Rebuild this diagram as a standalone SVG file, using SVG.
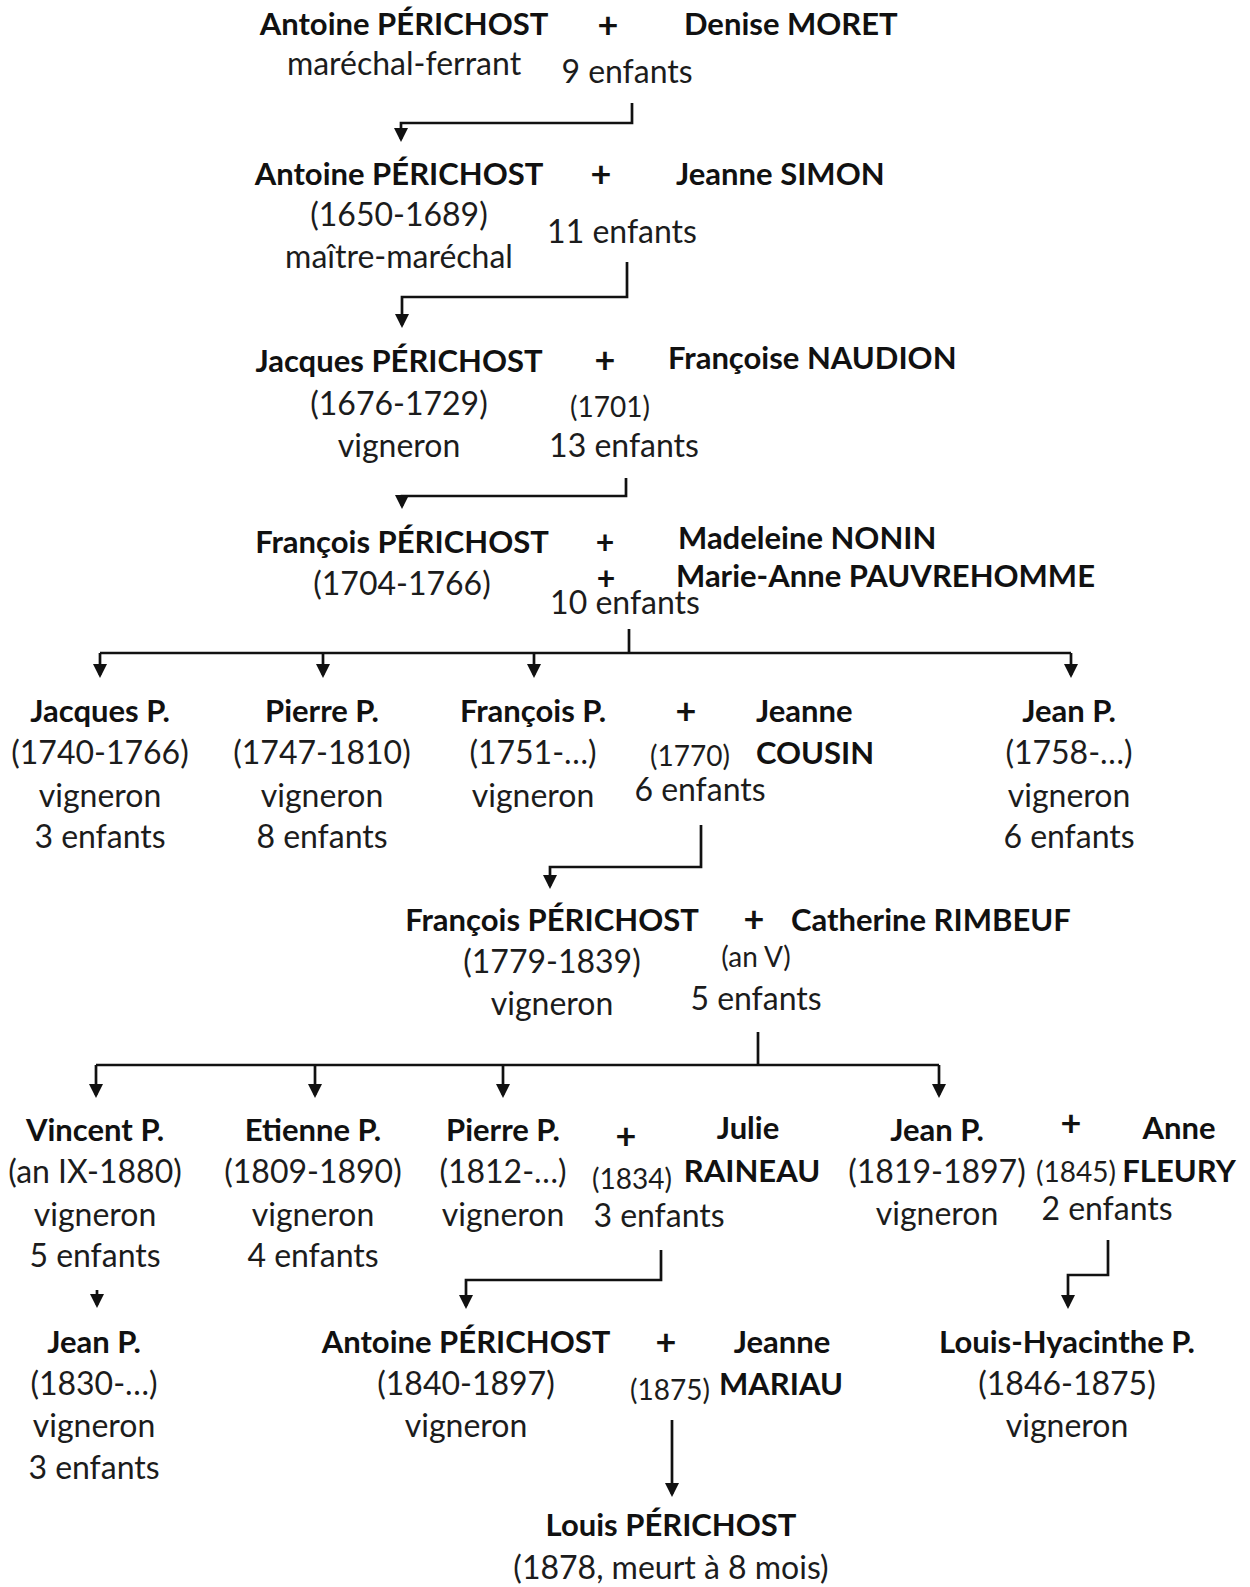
<svg xmlns="http://www.w3.org/2000/svg" width="1250" height="1587" viewBox="0 0 1250 1587">
  <style>
    text { font-family: Lato, "Liberation Sans", sans-serif; fill: #1c1c1c; }
    .b { font-size: 31px; font-weight: bold; fill: #111; }
    .r { font-size: 32px; }
    .s { font-size: 28px; }
    .p { font-size: 36px; font-weight: bold; fill: #111; text-anchor: middle; }
    .pt { font-size: 32px; }
    .m { text-anchor: middle; }
    .links path { fill: none; stroke: #111; stroke-width: 2.7; }
  </style>
  <defs>
    <marker id="arrow" viewBox="0 0 14 14" refX="11" refY="7" markerWidth="14" markerHeight="14" markerUnits="userSpaceOnUse" orient="auto">
      <path d="M0,0 L14,7 L0,14 z" fill="#111"/>
    </marker>
  </defs>

  <rect width="1250" height="1587" fill="#fff"/>

  <!-- Generation 1 -->
  <g id="antoine-1">
    <text class="b m" x="404" y="35">Antoine PÉRICHOST</text>
    <text class="r m" x="404" y="75">maréchal-ferrant</text>
  </g>
  <g id="union-1">
    <text class="p" x="608" y="38">+</text>
    <text class="r m" x="627" y="83">9 enfants</text>
  </g>
  <g id="denise-moret">
    <text class="b" x="684" y="35">Denise MORET</text>
  </g>

  <!-- Generation 2 -->
  <g id="antoine-2">
    <text class="b m" x="399" y="185">Antoine PÉRICHOST</text>
    <text class="r m" x="399" y="226">(1650-1689)</text>
    <text class="r m" x="399" y="268">maître-maréchal</text>
  </g>
  <g id="union-2">
    <text class="p" x="601" y="186.5">+</text>
    <text class="r m" x="622" y="243">11 enfants</text>
  </g>
  <g id="jeanne-simon">
    <text class="b" x="676" y="185">Jeanne SIMON</text>
  </g>

  <!-- Generation 3 -->
  <g id="jacques-1">
    <text class="b m" x="399" y="372">Jacques PÉRICHOST</text>
    <text class="r m" x="399" y="415">(1676-1729)</text>
    <text class="r m" x="399" y="457">vigneron</text>
  </g>
  <g id="union-3">
    <text class="p" x="605" y="372.5">+</text>
    <text class="s m" x="610" y="417">(1701)</text>
    <text class="r m" x="624" y="457">13 enfants</text>
  </g>
  <g id="francoise-naudion">
    <text class="b" x="668" y="369">Françoise NAUDION</text>
  </g>

  <!-- Generation 4 -->
  <g id="francois-1">
    <text class="b m" x="402" y="553">François PÉRICHOST</text>
    <text class="r m" x="402" y="595">(1704-1766)</text>
  </g>
  <g id="union-4">
    <text class="p pt" x="605" y="553.5">+</text>
    <text class="p pt" x="606" y="590">+</text>
    <text class="r m" x="625" y="614">10 enfants</text>
  </g>
  <g id="madeleine-nonin">
    <text class="b" x="678" y="549">Madeleine NONIN</text>
  </g>
  <g id="marie-anne-pauvrehomme">
    <text class="b" x="676" y="587">Marie-Anne PAUVREHOMME</text>
  </g>

  <!-- Generation 5 -->
  <g id="jacques-2">
    <text class="b m" x="100" y="722">Jacques P.</text>
    <text class="r m" x="100" y="764">(1740-1766)</text>
    <text class="r m" x="100" y="807">vigneron</text>
    <text class="r m" x="100" y="848">3 enfants</text>
  </g>
  <g id="pierre-1">
    <text class="b m" x="322" y="722">Pierre P.</text>
    <text class="r m" x="322" y="764">(1747-1810)</text>
    <text class="r m" x="322" y="807">vigneron</text>
    <text class="r m" x="322" y="848">8 enfants</text>
  </g>
  <g id="francois-2">
    <text class="b m" x="533" y="722">François P.</text>
    <text class="r m" x="533" y="764">(1751-…)</text>
    <text class="r m" x="533" y="807">vigneron</text>
  </g>
  <g id="union-5">
    <text class="p" x="686" y="723.5">+</text>
    <text class="s m" x="690" y="766">(1770)</text>
    <text class="r m" x="700" y="801">6 enfants</text>
  </g>
  <g id="jeanne-cousin">
    <text class="b" x="756" y="722">Jeanne</text>
    <text class="b" x="756" y="764">COUSIN</text>
  </g>
  <g id="jean-1">
    <text class="b m" x="1069" y="722">Jean P.</text>
    <text class="r m" x="1069" y="764">(1758-…)</text>
    <text class="r m" x="1069" y="807">vigneron</text>
    <text class="r m" x="1069" y="848">6 enfants</text>
  </g>

  <!-- Generation 6 -->
  <g id="francois-3">
    <text class="b m" x="552" y="931">François PÉRICHOST</text>
    <text class="r m" x="552" y="973">(1779-1839)</text>
    <text class="r m" x="552" y="1015">vigneron</text>
  </g>
  <g id="union-6">
    <text class="p" x="754" y="932">+</text>
    <text class="s m" x="756" y="967">(an V)</text>
    <text class="r m" x="756" y="1010">5 enfants</text>
  </g>
  <g id="catherine-rimbeuf">
    <text class="b" x="791" y="931">Catherine RIMBEUF</text>
  </g>

  <!-- Generation 7 -->
  <g id="vincent">
    <text class="b m" x="95" y="1141">Vincent P.</text>
    <text class="r m" x="95" y="1183">(an IX-1880)</text>
    <text class="r m" x="95" y="1226">vigneron</text>
    <text class="r m" x="95" y="1267">5 enfants</text>
  </g>
  <g id="etienne">
    <text class="b m" x="313" y="1141">Etienne P.</text>
    <text class="r m" x="313" y="1183">(1809-1890)</text>
    <text class="r m" x="313" y="1226">vigneron</text>
    <text class="r m" x="313" y="1267">4 enfants</text>
  </g>
  <g id="pierre-2">
    <text class="b m" x="503" y="1141">Pierre P.</text>
    <text class="r m" x="503" y="1183">(1812-…)</text>
    <text class="r m" x="503" y="1226">vigneron</text>
  </g>
  <g id="union-7">
    <text class="p" x="626" y="1148.5">+</text>
    <text class="s m" x="632" y="1189">(1834)</text>
    <text class="r m" x="659" y="1227">3 enfants</text>
  </g>
  <g id="julie-raineau">
    <text class="b m" x="748" y="1139">Julie</text>
    <text class="b m" x="752" y="1182">RAINEAU</text>
  </g>
  <g id="jean-2">
    <text class="b m" x="937" y="1141">Jean P.</text>
    <text class="r m" x="937" y="1183">(1819-1897)</text>
    <text class="r m" x="937" y="1225">vigneron</text>
  </g>
  <g id="union-8">
    <text class="p" x="1071" y="1135.5">+</text>
    <text class="s m" x="1076" y="1182">(1845)</text>
    <text class="r m" x="1107" y="1220">2 enfants</text>
  </g>
  <g id="anne-fleury">
    <text class="b m" x="1179" y="1139">Anne</text>
    <text class="b m" x="1179" y="1182">FLEURY</text>
  </g>

  <!-- Generation 8 -->
  <g id="jean-3">
    <text class="b m" x="94" y="1353">Jean P.</text>
    <text class="r m" x="94" y="1395">(1830-…)</text>
    <text class="r m" x="94" y="1437">vigneron</text>
    <text class="r m" x="94" y="1479">3 enfants</text>
  </g>
  <g id="antoine-3">
    <text class="b m" x="466" y="1353">Antoine PÉRICHOST</text>
    <text class="r m" x="466" y="1395">(1840-1897)</text>
    <text class="r m" x="466" y="1437">vigneron</text>
  </g>
  <g id="union-9">
    <text class="p" x="666" y="1354.5">+</text>
    <text class="s m" x="670" y="1400">(1875)</text>
  </g>
  <g id="jeanne-mariau">
    <text class="b m" x="782" y="1353">Jeanne</text>
    <text class="b m" x="781" y="1395">MARIAU</text>
  </g>
  <g id="louis-hyacinthe">
    <text class="b m" x="1067" y="1353">Louis-Hyacinthe P.</text>
    <text class="r m" x="1067" y="1395">(1846-1875)</text>
    <text class="r m" x="1067" y="1437">vigneron</text>
  </g>

  <!-- Generation 9 -->
  <g id="louis">
    <text class="b m" x="671" y="1536">Louis PÉRICHOST</text>
    <text class="r m" x="671" y="1579">(1878, meurt à 8 mois)</text>
  </g>

  <!-- Descent lines -->
  <g class="links">
    <path d="M632,103 V123 H401 V139" marker-end="url(#arrow)"/>
    <path d="M627,262 V297 H402 V325" marker-end="url(#arrow)"/>
    <path d="M626,478 V496 H402 V506" marker-end="url(#arrow)"/>
    <path d="M629,629 V653"/>
    <path d="M100,653 H1071"/>
    <path d="M100,653 V675" marker-end="url(#arrow)"/>
    <path d="M323,653 V675" marker-end="url(#arrow)"/>
    <path d="M534,653 V675" marker-end="url(#arrow)"/>
    <path d="M1071,653 V675" marker-end="url(#arrow)"/>
    <path d="M701,825 V867 H550 V886" marker-end="url(#arrow)"/>
    <path d="M758,1032 V1065"/>
    <path d="M96,1065 H939"/>
    <path d="M96,1065 V1095" marker-end="url(#arrow)"/>
    <path d="M315,1065 V1095" marker-end="url(#arrow)"/>
    <path d="M503,1065 V1095" marker-end="url(#arrow)"/>
    <path d="M939,1065 V1095" marker-end="url(#arrow)"/>
    <path d="M97,1290 V1305" marker-end="url(#arrow)"/>
    <path d="M661,1250 V1280 H466 V1306" marker-end="url(#arrow)"/>
    <path d="M1108,1240 V1275 H1068 V1306" marker-end="url(#arrow)"/>
    <path d="M672,1420 V1494" marker-end="url(#arrow)"/>
  </g>
</svg>
